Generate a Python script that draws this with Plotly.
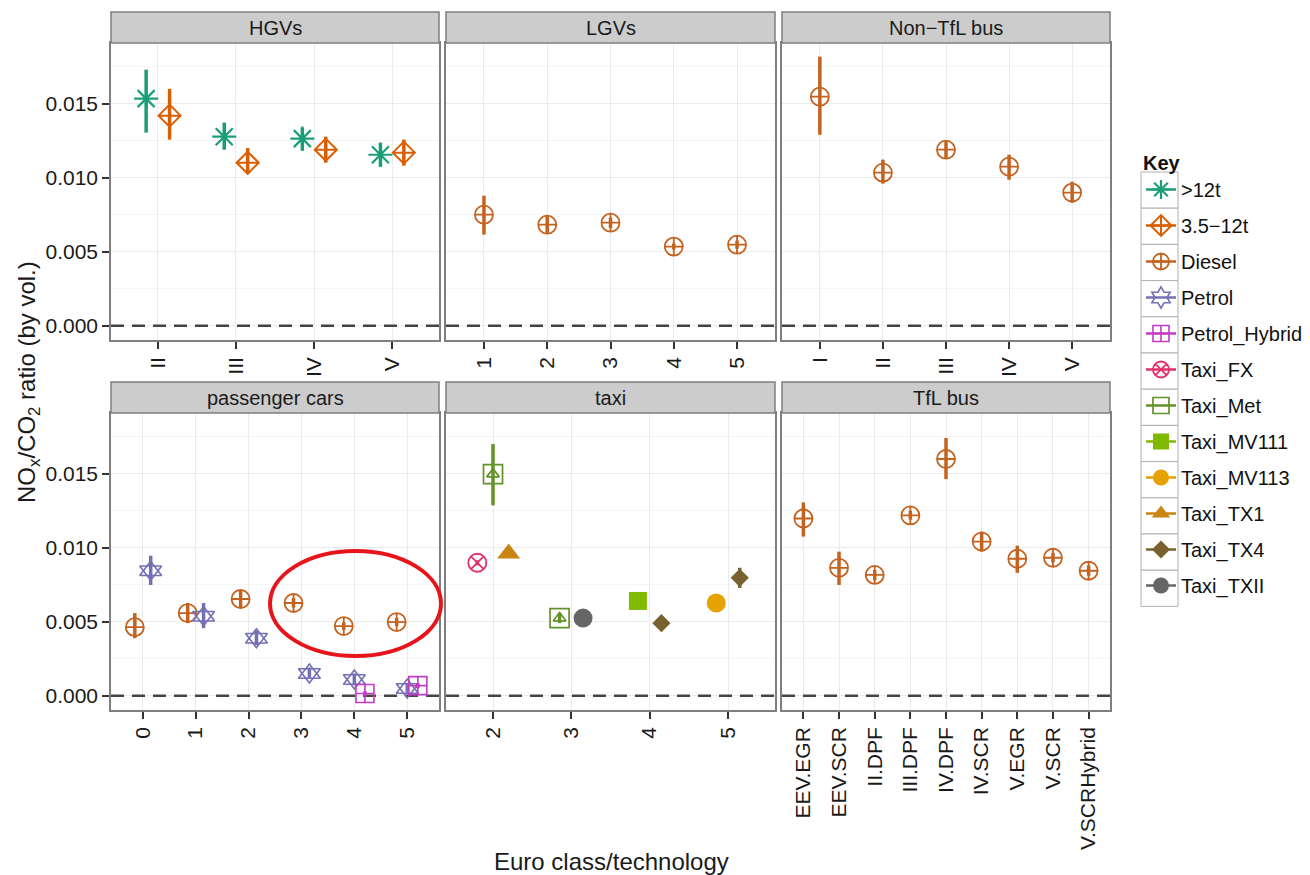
import plotly.graph_objects as go

# ---------------- data ----------------
hgv_classes = ["II", "III", "IV", "V"]
hgv_gt12 = [0.01534, 0.01277, 0.01264, 0.01155]
hgv_gt12_lo = [0.01304, 0.01189, 0.01182, 0.01074]
hgv_gt12_hi = [0.01730, 0.01372, 0.01338, 0.01236]
hgv_35_12 = [0.01419, 0.01101, 0.01189, 0.01169]
hgv_35_12_lo = [0.01257, 0.01027, 0.01101, 0.01081]
hgv_35_12_hi = [0.01600, 0.01200, 0.01277, 0.01257]

lgv_classes = ["1", "2", "3", "4", "5"]
lgv_diesel = [0.00750, 0.00682, 0.00696, 0.00534, 0.00547]
lgv_diesel_lo = [0.00615, 0.00628, 0.00660, 0.00515, 0.00520]
lgv_diesel_hi = [0.00878, 0.00736, 0.00730, 0.00555, 0.00575]

ntb_classes = ["I", "II", "III", "IV", "V"]
ntb_diesel = [0.01547, 0.01034, 0.01189, 0.01074, 0.00899]
ntb_diesel_lo = [0.01290, 0.00960, 0.01128, 0.00986, 0.00831]
ntb_diesel_hi = [0.01818, 0.01122, 0.01243, 0.01155, 0.00973]

pc_classes = ["0", "1", "2", "3", "4", "5"]
pc_diesel = [0.00463, 0.00558, 0.00653, 0.00626, 0.00470, 0.00497]
pc_diesel_lo = [0.00388, 0.00490, 0.00592, 0.00595, 0.00445, 0.00470]
pc_diesel_hi = [0.00558, 0.00626, 0.00714, 0.00660, 0.00495, 0.00525]
pc_petrol = [0.00844, 0.00537, 0.00388, 0.00150, 0.00109, 0.00048]
pc_petrol_lo = [0.00748, 0.00456, 0.00340, 0.00120, 0.00070, 0.00020]
pc_petrol_hi = [0.00946, 0.00626, 0.00440, 0.00190, 0.00150, 0.00080]
pc_hybrid = [None, None, None, None, 0.00014, 0.00068]
pc_hybrid_lo = [None, None, None, None, 0.00000, 0.00050]
pc_hybrid_hi = [None, None, None, None, 0.00030, 0.00085]

taxi_classes = ["2", "3", "4", "5"]
taxi_fx = [0.00898, None, None, None]
taxi_fx_lo = [0.00880, None, None, None]
taxi_fx_hi = [0.00915, None, None, None]
taxi_met = [0.01497, 0.00524, None, None]
taxi_met_lo = [0.01286, 0.00490, None, None]
taxi_met_hi = [0.01700, 0.00560, None, None]
taxi_mv111 = [None, None, 0.00640, None]
taxi_mv113 = [None, None, None, 0.00626]
taxi_tx1 = [0.00960, None, None, None]
taxi_tx4 = [None, None, 0.00490, 0.00796]
taxi_tx4_lo = [None, None, 0.00480, 0.00728]
taxi_tx4_hi = [None, None, 0.00500, 0.00864]
taxi_txii = [None, 0.00524, None, None]

tfl_classes = ["EEV.EGR", "EEV.SCR", "II.DPF", "III.DPF", "IV.DPF",
               "IV.SCR", "V.EGR", "V.SCR", "V.SCRHybrid"]
tfl_diesel = [0.01197, 0.00864, 0.00816, 0.01218, 0.01599, 0.01041, 0.00925, 0.00932, 0.00844]
tfl_diesel_lo = [0.01075, 0.00748, 0.00780, 0.01190, 0.01463, 0.00973, 0.00830, 0.00900, 0.00810]
tfl_diesel_hi = [0.01306, 0.00973, 0.00850, 0.01250, 0.01741, 0.01109, 0.01014, 0.00965, 0.00880]

key_names = [">12t", "3.5\u221212t", "Diesel", "Petrol", "Petrol_Hybrid", "Taxi_FX",
             "Taxi_Met", "Taxi_MV111", "Taxi_MV113", "Taxi_TX1", "Taxi_TX4", "Taxi_TXII"]

y_tick_vals = [0.0, 0.005, 0.010, 0.015]
y_tick_text = ["0.000", "0.005", "0.010", "0.015"]
reference_level = 0.0

# ---------------- styles ----------------
FONT = "Liberation Sans, Arial, Helvetica, sans-serif"
STYLE = {
    ">12t":          dict(color="#1B9E77", symbols=[("asterisk-open", 20)], lw=2.2),
    "3.5\u221212t":  dict(color="#D95F02", symbols=[("diamond-cross-open", 17)], lw=2.0),
    "Diesel":        dict(color="#C4621F", symbols=[("circle-cross-open", 18)], lw=1.8),
    "Petrol":        dict(color="#7570B3", symbols=[("triangle-up-open", 19), ("triangle-down-open", 19)],
                          lw=1.6, legend_symbol="hexagram-open"),
    "Petrol_Hybrid": dict(color="#C23BC6", symbols=[("square-cross-open", 18)], lw=1.6),
    "Taxi_FX":       dict(color="#E2306E", symbols=[("circle-x-open", 18)], lw=1.8),
    "Taxi_Met":      dict(color="#63922A", symbols=[("square-open", 19), ("triangle-up-open", 11)], lw=1.7),
    "Taxi_MV111":    dict(color="#7FBA00", symbols=[("square", 18)], lw=0),
    "Taxi_MV113":    dict(color="#E6A102", symbols=[("circle", 19)], lw=0),
    "Taxi_TX1":      dict(color="#C98412", symbols=[("triangle-up", 20)], lw=0),
    "Taxi_TX4":      dict(color="#7A6230", symbols=[("diamond", 14)], lw=0),
    "Taxi_TXII":     dict(color="#666666", symbols=[("circle", 19)], lw=0),
}

panels = [
    dict(title="HGVs", cats=hgv_classes, px=(111, 439), py=(12, 43, 340), series=[
        (">12t", hgv_gt12, hgv_gt12_lo, hgv_gt12_hi),
        ("3.5\u221212t", hgv_35_12, hgv_35_12_lo, hgv_35_12_hi)]),
    dict(title="LGVs", cats=lgv_classes, px=(446, 775), py=(12, 43, 340), series=[
        ("Diesel", lgv_diesel, lgv_diesel_lo, lgv_diesel_hi)]),
    dict(title="Non\u2212TfL bus", cats=ntb_classes, px=(782, 1110), py=(12, 43, 340), series=[
        ("Diesel", ntb_diesel, ntb_diesel_lo, ntb_diesel_hi)]),
    dict(title="passenger cars", cats=pc_classes, px=(111, 439), py=(382, 413, 710), series=[
        ("Diesel", pc_diesel, pc_diesel_lo, pc_diesel_hi),
        ("Petrol", pc_petrol, pc_petrol_lo, pc_petrol_hi),
        ("Petrol_Hybrid", pc_hybrid, pc_hybrid_lo, pc_hybrid_hi)]),
    dict(title="taxi", cats=taxi_classes, px=(446, 775), py=(382, 413, 710), series=[
        ("Taxi_FX", taxi_fx, taxi_fx_lo, taxi_fx_hi),
        ("Taxi_Met", taxi_met, taxi_met_lo, taxi_met_hi),
        ("Taxi_MV111", taxi_mv111, None, None),
        ("Taxi_MV113", taxi_mv113, None, None),
        ("Taxi_TX1", taxi_tx1, None, None),
        ("Taxi_TX4", taxi_tx4, taxi_tx4_lo, taxi_tx4_hi),
        ("Taxi_TXII", taxi_txii, None, None)]),
    dict(title="TfL bus", cats=tfl_classes, px=(782, 1110), py=(382, 413, 710), series=[
        ("Diesel", tfl_diesel, tfl_diesel_lo, tfl_diesel_hi)]),
]

W, H = 1310, 875
DODGE = 0.6
Y_RANGE = [-0.00097, 0.0191]
TICK_FONT = dict(size=21, color="#1A1A1A", family=FONT)

fig = go.Figure()
shapes, annotations = [], []
layout = {}

for k, p in enumerate(panels, start=1):
    sfx = "" if k == 1 else str(k)
    xa, ya = f"x{sfx}", f"y{sfx}"
    ncat = len(p["cats"])
    # dashed reference line at zero across the panel
    fig.add_trace(go.Scatter(x=[-0.6, ncat - 0.4], y=[reference_level, reference_level],
                             mode="lines", xaxis=xa, yaxis=ya, showlegend=False, hoverinfo="skip",
                             line=dict(color="#444444", width=2.5, dash="13px,8px")))
    present = [[s[0] for s in p["series"] if s[1][j] is not None] for j in range(ncat)]
    for name, vals, lo, hi in p["series"]:
        st = STYLE[name]
        xs, ys, ep, em = [], [], [], []
        for j, v in enumerate(vals):
            if v is None:
                continue
            grp = present[j]
            n = len(grp)
            pos = grp.index(name)
            xs.append(j + (pos - (n - 1) / 2) * DODGE / n)
            ys.append(v)
            ep.append((hi[j] - v) if hi is not None else 0)
            em.append((v - lo[j]) if lo is not None else 0)
        for si, (sym, size) in enumerate(st["symbols"]):
            tr = dict(x=xs, y=ys, mode="markers", xaxis=xa, yaxis=ya, showlegend=False,
                      name=name,
                      marker=dict(symbol=sym, size=size, color=st["color"],
                                  line=dict(color=st["color"], width=st["lw"])))
            if si == 0:
                tr["error_y"] = dict(type="data", array=ep, arrayminus=em, width=0,
                                     thickness=3.5, color=st["color"])
            fig.add_trace(go.Scatter(**tr))

    x0, x1 = p["px"]
    ys_, yp0, yp1 = p["py"]
    layout[f"xaxis{sfx}"] = dict(
        domain=[x0 / W, x1 / W], anchor=ya, range=[-0.6, ncat - 0.4],
        tickmode="array", tickvals=list(range(ncat)), ticktext=p["cats"], tickangle=-90,
        showgrid=True, gridcolor="#EBEBEB", gridwidth=1, zeroline=False,
        showline=True, mirror=True, linecolor="#7F7F7F", linewidth=1.5,
        ticks="outside", ticklen=7, tickwidth=2, tickcolor="#333333",
        tickfont=TICK_FONT, fixedrange=True)
    layout[f"yaxis{sfx}"] = dict(
        domain=[1 - yp1 / H, 1 - yp0 / H], anchor=xa, range=Y_RANGE,
        tickmode="array", tickvals=y_tick_vals, ticktext=y_tick_text,
        showticklabels=(k in (1, 4)),
        showgrid=True, gridcolor="#EBEBEB", gridwidth=1, zeroline=False,
        minor=dict(tickmode="array", tickvals=[0.0025, 0.0075, 0.0125, 0.0175],
                   showgrid=True, gridcolor="#F5F5F5", gridwidth=0.8, ticks=""),
        showline=True, mirror=True, linecolor="#7F7F7F", linewidth=1.5,
        ticks="outside" if k in (1, 4) else "", ticklen=7, tickwidth=2, tickcolor="#333333",
        tickfont=TICK_FONT, fixedrange=True)
    shapes.append(dict(type="rect", xref="paper", yref="paper",
                       x0=x0 / W, x1=x1 / W, y0=1 - yp0 / H, y1=1 - ys_ / H,
                       fillcolor="#CCCCCC", line=dict(color="#7F7F7F", width=1.5), layer="above"))
    annotations.append(dict(text=p["title"], xref="paper", yref="paper",
                            x=(x0 + x1) / 2 / W, y=1 - (ys_ + yp0) / 2 / H,
                            xanchor="center", yanchor="middle", showarrow=False,
                            font=dict(size=20, color="#1A1A1A", family=FONT)))

for name in key_names:
    st = STYLE[name]
    sym, size = st["symbols"][0]
    sym = st.get("legend_symbol", sym)
    fig.add_trace(go.Scatter(
        x=[None], y=[None], mode="lines+markers", name=name, legendgroup=name,
        xaxis="x", yaxis="y", showlegend=True,
        line=dict(color=st["color"], width=2.5),
        marker=dict(symbol=sym, size=min(size, 16), color=st["color"],
                    line=dict(color=st["color"], width=st["lw"]))))

KEY_TOP, KEY_STEP = 172, 36.2
for i in range(len(key_names)):
    shapes.append(dict(type="rect", xref="paper", yref="paper",
                       x0=1141 / W, x1=1178 / W,
                       y0=1 - (KEY_TOP + (i + 1) * KEY_STEP) / H, y1=1 - (KEY_TOP + i * KEY_STEP) / H,
                       fillcolor="white", line=dict(color="#B0B0B0", width=1), layer="above"))

shapes.append(dict(type="circle", xref="paper", yref="paper",
                   x0=270 / W, x1=441 / W, y0=1 - 656 / H, y1=1 - 551 / H,
                   line=dict(color="#E8141B", width=4), layer="above"))

annotations.append(dict(text="Euro class/technology", xref="paper", yref="paper",
                        x=611 / W, y=1 - 861 / H, xanchor="center", yanchor="middle",
                        showarrow=False, font=dict(size=24, color="#1A1A1A", family=FONT)))
annotations.append(dict(text="NO<sub>x</sub>/CO<sub>2</sub> ratio (by vol.)", xref="paper", yref="paper",
                        x=28 / W, y=1 - 382 / H, xanchor="center", yanchor="middle", textangle=-90,
                        showarrow=False, font=dict(size=24, color="#1A1A1A", family=FONT)))

fig.update_layout(
    width=W, height=H, margin=dict(l=0, r=0, t=0, b=0),
    paper_bgcolor="white", plot_bgcolor="white",
    font=dict(family=FONT, size=20, color="#1A1A1A"),
    shapes=shapes, annotations=annotations,
    legend=dict(x=1141 / W, xanchor="left", y=1 - 144 / H, yanchor="top",
                bgcolor="rgba(0,0,0,0)", borderwidth=0,
                font=dict(size=20, family=FONT, color="#111111"),
                title=dict(text="<b>Key</b>", font=dict(size=20, family=FONT, color="#111111")),
                traceorder="grouped", tracegroupgap=7, itemwidth=30),
    **layout,
)

fig.write_html("out.html", include_plotlyjs=True, config={"displayModeBar": False},
               post_script="document.body.style.margin='0';document.body.style.overflow='hidden';")
